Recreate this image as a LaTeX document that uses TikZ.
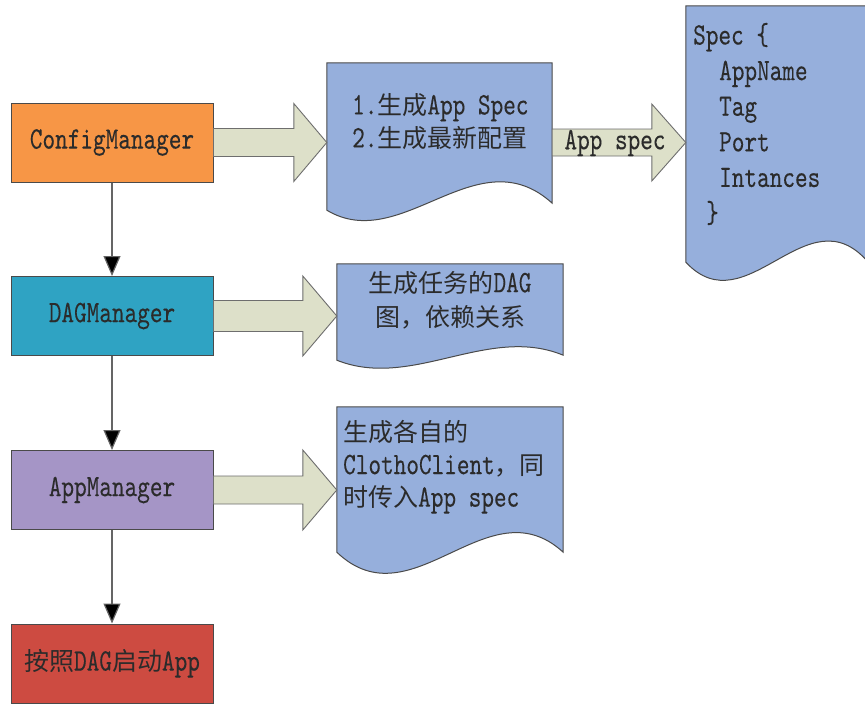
\documentclass[tikz,border=0pt]{standalone}
\usepackage{fontspec}
\setmainfont{lmmono10-regular.otf}[FakeStretch=0.77,Scale=1.25,FakeBold=0.15]
\newfontfamily\cjk{Noto Sans CJK SC}
\newcommand\zh[1]{{\cjk #1}}
\usetikzlibrary{arrows.meta,calc}
\definecolor{cfgc}{HTML}{F79646}
\definecolor{dagc}{HTML}{2FA3C3}
\definecolor{appc}{HTML}{A595C6}
\definecolor{runc}{HTML}{CD4B41}
\definecolor{docc}{HTML}{96AFDC}
\definecolor{arrc}{HTML}{DDE0C9}
\definecolor{linec}{HTML}{4A4A4A}
\definecolor{txtc}{HTML}{2B2B2B}
\newcommand\docshape[4]{%
  \draw[docfill] (#1.north west) -- (#1.north east) -- ($(#1.south east)+(0,#4)$)
    .. controls ($(#1.south west)!0.667!(#1.south east)+(0,#3)$) and ($(#1.south west)!0.333!(#1.south east)+(0,#2)$) .. (#1.south west) -- cycle;}
\newcommand\blockarrow[5]{%
  \draw[blk] let \p1=(#1), \p2=(#2) in
   (\x1,\y1+#3pt) -- (\x2-#5pt,\y1+#3pt) -- (\x2-#5pt,\y1+#4pt) -- (\x2,\y1)
   -- (\x2-#5pt,\y1-#4pt) -- (\x2-#5pt,\y1-#3pt) -- (\x1,\y1-#3pt) -- cycle;}
\begin{document}
\begin{tikzpicture}[x=1pt,y=-1pt,
  mgr/.style={draw=linec,line width=1pt,minimum width=202pt,minimum height=79pt,inner sep=0pt,text=txtc,font=\fontsize{25}{30}\selectfont},
  docbox/.style={inner sep=0pt},
  docfill/.style={draw=linec,line width=1pt,fill=docc},
  blk/.style={draw=linec!80,fill=arrc,line width=0.9pt},
  flow/.style={draw=linec!85,line width=1.2pt,-{Triangle[length=20pt,width=17pt,fill=black]}},
  txt/.style={text=txtc,inner sep=0pt,font=\fontsize{25}{33}\selectfont}]
\useasboundingbox (0,0) rectangle (865,704);
\fill[white] (0,0) rectangle (865,704);
% manager boxes
\node[mgr,fill=cfgc] (cfg) at (112,142.5) {ConfigManager};
\node[mgr,fill=dagc] (dag) at (112,316) {DAGManager};
\node[mgr,fill=appc] (app) at (112,490) {AppManager};
\node[mgr,fill=runc] (run) at (112,663.5) {\zh{按照}DAG\zh{启动}App};
% document frames
\node[docbox,minimum width=225pt,minimum height=147pt] (d1) at (439.5,136.5) {};
\node[docbox,minimum width=226pt,minimum height=96pt] (d2) at (450,312) {};
\node[docbox,minimum width=226pt,minimum height=145pt] (d3) at (450,479.5) {};
\node[docbox,minimum width=182pt,minimum height=256pt] (sp) at (777,134) {};
\docshape{d1}{45}{-75}{-7}
\docshape{d2}{30}{-36}{-5}
\docshape{d3}{72}{-69}{0}
\docshape{sp}{65}{-71}{0}
% block arrows
\blockarrow{cfg.east}{d1.west}{14}{39}{33}
\blockarrow{d1.east |- cfg.east}{sp.west}{13.5}{38.5}{34}
\blockarrow{dag.east}{d2.west}{15.5}{40}{34}
\blockarrow{app.east}{d3.west}{14}{40}{34}
% flow arrows
\draw[flow] (cfg) -- (dag);
\draw[flow] (dag) -- (app);
\draw[flow] (app) -- (run);
% texts
\node[txt] (lbl) at (615,143) {App spec};
\node[txt,align=left,anchor=west] (t1) at (352,121.5) {1.\zh{生成}App Spec\\2.\zh{生成最新配置}};
\node[txt,align=center,font=\fontsize{25}{34}\selectfont] (t2) at (450,300) {\zh{生成任务的}DAG\\\zh{图，依赖关系}};
\node[txt,align=left,anchor=west,font=\fontsize{25}{32.5}\selectfont] (t3) at (343,467) {\zh{生成各自的}\\ClothoClient\zh{，同}\\\zh{时传入}App spec};
\node[txt,align=left,anchor=west,font=\fontsize{25}{35.6}\selectfont] (t4) at (693,124) {Spec \{\\\hspace*{26pt}AppName\\\hspace*{26pt}Tag\\\hspace*{26pt}Port\\\hspace*{26pt}Intances\\\hspace*{13pt}\}};
\end{tikzpicture}
\end{document}
